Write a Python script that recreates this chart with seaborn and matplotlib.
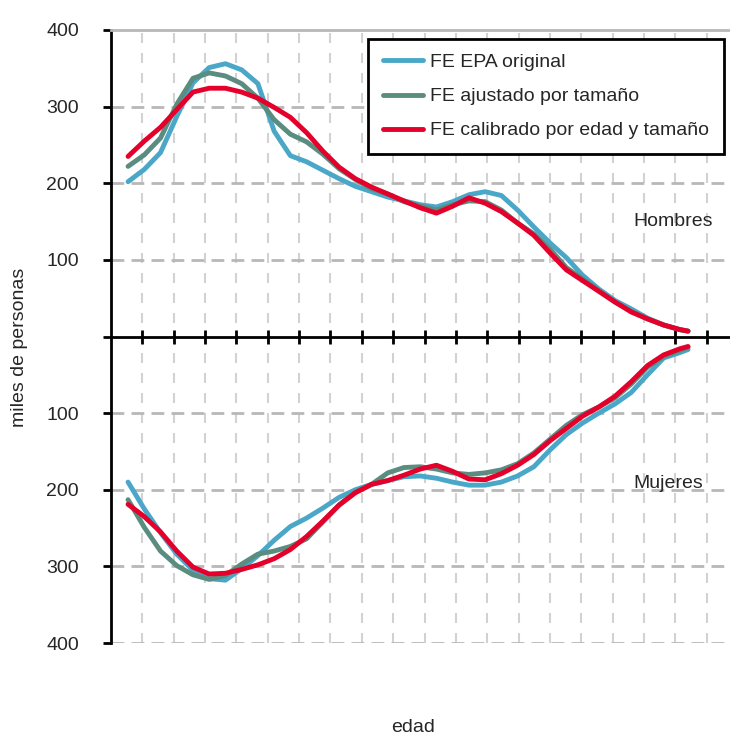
import numpy as np
import pandas as pd
import seaborn as sns
import matplotlib.pyplot as plt
from matplotlib.lines import Line2D

# datos (miles de personas)
edad = [16, 18, 20, 22, 24, 26, 28, 30, 32, 34, 36, 38, 40, 42, 44, 46, 48, 50,
        52, 54, 56, 58, 60, 62, 64, 66, 68, 70, 72, 74, 76, 78, 80, 82, 84, 85]

h_original = [202, 218, 240, 287, 331, 351, 356, 348, 330, 268, 236, 228, 217, 206, 196, 189, 182, 177,
              172, 169, 176, 185, 189, 184, 165, 143, 122, 103, 80, 62, 47, 36, 24, 15, 9, 7]
h_ajustado = [222, 237, 259, 303, 337, 344, 340, 330, 311, 283, 264, 254, 238, 219, 205, 193, 186, 176,
              170, 165, 172, 177, 176, 165, 148, 134, 114, 90, 75, 60, 45, 33, 23, 15, 9, 7]
h_calibrado = [235, 255, 273, 296, 319, 324, 324, 319, 311, 299, 286, 266, 242, 221, 206, 195, 186, 177,
               168, 161, 170, 181, 174, 163, 148, 132, 109, 87, 73, 59, 45, 32, 23, 15, 9, 7]

m_original = [190, 225, 256, 284, 305, 316, 318, 303, 286, 266, 248, 237, 224, 210, 200, 193, 188, 183,
              182, 185, 190, 194, 194, 190, 182, 170, 148, 128, 113, 100, 88, 73, 50, 28, 21, 17]
m_ajustado = [213, 249, 280, 299, 311, 317, 312, 297, 284, 280, 274, 264, 242, 220, 203, 193, 178, 171,
              170, 173, 178, 180, 178, 174, 166, 152, 134, 116, 102, 92, 80, 62, 40, 26, 18, 14]
m_calibrado = [219, 235, 255, 280, 301, 310, 309, 304, 298, 290, 278, 261, 241, 220, 204, 193, 188, 181,
               173, 168, 176, 186, 187, 179, 168, 154, 136, 120, 104, 92, 78, 59, 38, 24, 16, 13]

series = ['FE EPA original', 'FE ajustado por tamaño', 'FE calibrado por edad y tamaño']
colores = ['#4BA7C8', '#5A8C80', '#E4002B']
y_ticks = [-400, -300, -200, -100, 0, 100, 200, 300, 400]
y_labels = ['400', '300', '200', '100', '', '100', '200', '300', '400']

# tabla larga para seaborn (mujeres hacia abajo)
df_h = pd.DataFrame({'edad': edad * 3,
                     'valor': h_original + h_ajustado + h_calibrado,
                     'serie': np.repeat(series, len(edad))})
df_m = pd.DataFrame({'edad': edad * 3,
                     'valor': [-v for v in m_original + m_ajustado + m_calibrado],
                     'serie': np.repeat(series, len(edad))})

sns.set_style('white')
plt.rcParams['font.family'] = ['Liberation Sans', 'DejaVu Sans']

fig = plt.figure(figsize=(7.3, 7.38), dpi=100)
ax = fig.add_axes([111 / 730, 1 - 643 / 738, 619 / 730, 613 / 738])

x0 = 13.9
px_year = 8.116
x_grid = x0 + np.arange(1, 20) * 31.35 / px_year

# rejilla
for xg in x_grid:
    ax.axvline(xg, color='#d2d2d2', lw=1.5, dashes=(4.8, 4.8), zorder=0)
for yg in [-400, -300, -200, -100, 100, 200, 300]:
    ax.axhline(yg, color='#b8b8b8', lw=2, dashes=(4.6, 2.6), zorder=0)

ax.axhline(0, color='black', lw=2, zorder=1)
ax.plot(x_grid, np.zeros(len(x_grid)), ls='none', marker='|', ms=9.5, mew=2, color='black', zorder=1)

pal = dict(zip(series, colores))
sns.lineplot(data=df_h, x='edad', y='valor', hue='serie', hue_order=series, palette=pal,
             linewidth=3.5, ax=ax, legend=False, zorder=3)
sns.lineplot(data=df_m, x='edad', y='valor', hue='serie', hue_order=series, palette=pal,
             linewidth=3.5, ax=ax, legend=False, zorder=3)

ax.set_xlim(x0, x0 + 619 / px_year)
ax.set_ylim(-400, 400)
ax.set_xticks([])
ax.set_yticks(y_ticks)
ax.set_yticklabels(y_labels)
ax.set_xlabel('')
ax.set_ylabel('')
ax.tick_params(axis='y', length=6, width=2, color='black', direction='out', pad=17, labelsize=14, left=True)

for s in ['right', 'bottom']:
    ax.spines[s].set_visible(False)
ax.spines['left'].set_color('black')
ax.spines['left'].set_linewidth(2)
ax.spines['top'].set_color('#b8b8b8')
ax.spines['top'].set_linewidth(2)

handles = [Line2D([], [], color=c, lw=3.5) for c in colores]
leg = ax.legend(handles, series, loc='upper left', bbox_to_anchor=((368 - 111) / 619, 1 - 9 / 613),
                fontsize=14, frameon=True, fancybox=False, handlelength=2.1, handletextpad=0.35,
                labelspacing=0.85, borderpad=0.75, borderaxespad=0)
leg.get_frame().set_edgecolor('black')
leg.get_frame().set_linewidth(2)
leg.get_frame().set_alpha(1)

ax.text((633 - 111) / 619, 1 - (222 - 30) / 613, 'Hombres', transform=ax.transAxes,
        fontsize=14, ha='left', va='center')
ax.text((633 - 111) / 619, 1 - (483 - 30) / 613, 'Mujeres', transform=ax.transAxes,
        fontsize=14, ha='left', va='center')

fig.text(20 / 730, 1 - 347 / 738, 'miles de personas', rotation=90, fontsize=14, ha='center', va='center')
fig.text(413 / 730, 2 / 738, 'edad', fontsize=14, ha='center', va='bottom')

fig.savefig('out.png', dpi=100, facecolor='white')
